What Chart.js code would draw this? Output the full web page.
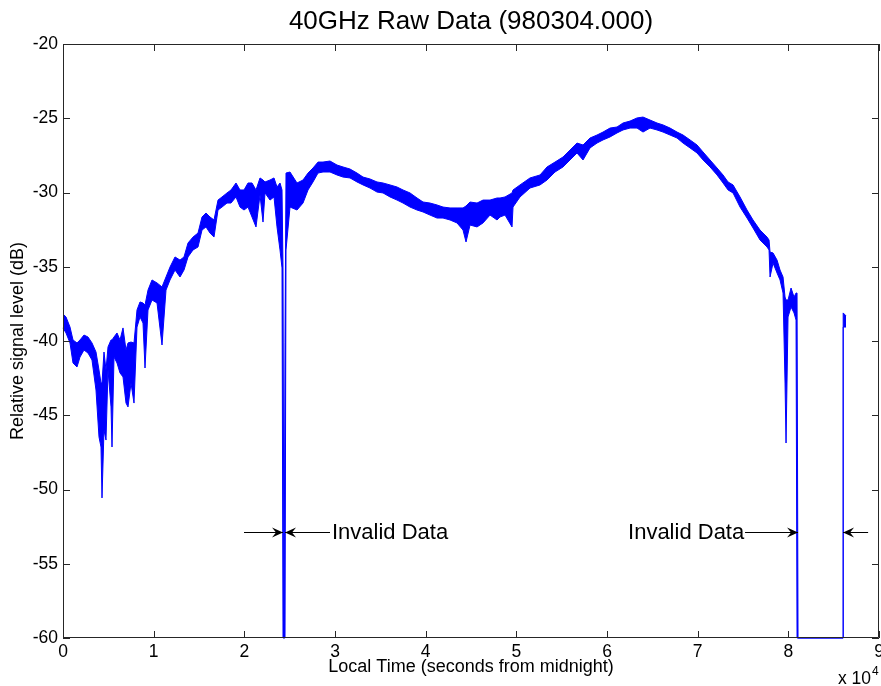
<!DOCTYPE html>
<html>
<head>
<meta charset="utf-8">
<title>40GHz Raw Data</title>
<script src="https://cdn.jsdelivr.net/npm/chart.js@4.4.0/dist/chart.umd.min.js"></script>
<style>
  body { margin: 0; background: #fff; }
  canvas { display: block; }
</style>
</head>
<body>
<canvas id="rawChart" width="881" height="686"></canvas>
<script>
// time of day (seconds from midnight) at each reading
const timeSec = [
  0, 331, 772, 1103, 1544, 1875, 2316, 2757, 3198, 3639, 3970, 4191, 4302, 4522, 4743, 4964,
  5295, 5405, 5625, 5956, 6287, 6618, 6949, 7170, 7500, 7831, 8162, 8493, 8824, 9045, 9376,
  9817, 10368, 10920, 11361, 11802, 12354, 12905, 13346, 13788, 14339, 14890, 15332, 15773,
  16214, 16655, 17097, 17538, 18089, 18530, 19082, 19523, 19964, 20406, 20847, 21288, 21729,
  22060, 22281, 22832, 23273, 23604, 23935, 24156, 24266, 24377, 24487, 24597, 25038, 25810,
  26472, 27024, 27575, 28127, 28678, 29450, 30222, 30884, 31656, 32428, 33090, 33862, 34634,
  35296, 36068, 36840, 37502, 38274, 39046, 39708, 40480, 41252, 41914, 42686, 43458, 44120,
  44451, 44892, 45664, 46326, 47098, 47870, 48201, 48753, 49525, 49635, 50407, 51510, 52613,
  53385, 54268, 55150, 55922, 56694, 57356, 58128, 58900, 59562, 60334, 61106, 61768, 62540,
  63312, 63974, 64746, 65518, 66180, 66952, 67724, 68386, 69158, 69930, 70592, 71364, 72136,
  72798, 73350, 73901, 74673, 75445, 76107, 76879, 77651, 77872, 77982, 78313, 78754, 79085,
  79416, 79637, 79747, 79968, 80298, 80629, 80850, 80960, 81071, 86034, 86050, 86365
];

// upper edge of the noisy signal trace (dB)
const levelHigh = [
  -38.18, -38.38, -39.06, -39.93, -40.13, -39.93, -39.60, -39.73, -40.13, -40.74, -41.95, -42.83, -42.83, -40.74, -41.95, -40.40,
  -39.93, -39.93, -39.73, -39.46, -39.93, -39.12, -40.61, -40.13, -40.07, -40.13, -37.91, -37.37, -37.44, -37.58, -36.57,
  -35.89, -36.09, -36.36, -35.69, -35.02, -34.34, -34.55, -34.34, -33.40, -33.00, -32.73, -31.65, -31.38,
  -31.65, -31.85, -30.51, -30.30, -30.03, -29.83, -29.36, -29.83, -29.83, -29.36, -29.36, -29.83, -29.02,
  -29.16, -29.29, -29.16, -29.02, -29.63, -29.36, -29.83, -35.08, -60.00, -40.13, -28.69, -28.62, -29.36,
  -29.16, -28.69, -28.35, -27.95, -27.95, -27.88, -28.15, -28.28, -28.42, -28.69, -28.96, -29.09, -29.29,
  -29.36, -29.49, -29.63, -29.83, -30.03, -30.37, -30.64, -30.71, -30.84, -30.98, -31.04, -31.04, -31.04,
  -30.91, -30.64, -30.71, -30.51, -30.51, -30.37, -30.37, -30.30, -30.03, -29.83, -29.49, -29.02, -28.82,
  -28.28, -27.95, -27.61, -27.14, -26.67, -26.80, -26.33, -26.13, -25.93, -25.66, -25.59, -25.32, -25.19,
  -24.98, -24.92, -25.12, -25.32, -25.45, -25.66, -25.93, -26.13, -26.46, -26.80, -27.27, -27.81, -28.35,
  -28.82, -29.29, -29.49, -30.30, -31.18, -31.85, -32.53, -33.00, -33.20, -34.01, -34.07, -34.55, -35.22,
  -35.69, -37.04, -37.24, -37.24, -36.43, -37.04, -36.77, -36.77, -60.00, -60.00, -38.11, -38.31
];

// lower edge of the noisy signal trace (dB), including the fades
const levelLow = [
  -39.12, -39.46, -40.13, -41.48, -41.75, -41.08, -40.61, -40.81, -41.28, -43.30, -46.46, -47.14, -50.57, -46.00, -46.67, -41.95,
  -44.44, -47.14, -41.08, -41.48, -42.15, -42.42, -44.18, -44.44, -42.83, -44.18, -39.06, -38.38, -38.79, -41.82, -37.91,
  -37.24, -37.44, -40.27, -36.57, -35.89, -35.22, -35.69, -35.22, -34.34, -33.87, -33.67, -32.53, -32.32,
  -32.73, -33.00, -31.18, -30.98, -30.71, -30.71, -30.30, -30.98, -31.18, -30.98, -31.65, -32.32, -30.17,
  -31.99, -30.03, -30.51, -30.30, -32.32, -33.87, -35.08, -60.00, -60.00, -60.00, -33.87, -30.98, -31.18,
  -30.71, -29.83, -29.29, -28.69, -28.62, -28.62, -28.82, -28.96, -29.02, -29.29, -29.49, -29.70, -29.97,
  -30.03, -30.30, -30.51, -30.71, -30.98, -31.18, -31.31, -31.52, -31.72, -31.72, -31.85, -32.05, -32.53,
  -33.33, -32.19, -32.32, -32.05, -31.52, -31.85, -31.65, -31.52, -32.32, -30.98, -30.30, -29.70, -29.49,
  -29.16, -28.62, -28.28, -27.81, -27.34, -27.81, -27.00, -26.67, -26.46, -26.26, -25.99, -25.79, -25.66,
  -25.66, -25.93, -25.66, -25.79, -25.93, -26.13, -26.33, -26.67, -27.00, -27.34, -27.81, -28.28, -28.82,
  -29.36, -29.83, -30.03, -30.98, -31.72, -32.39, -33.20, -33.67, -33.87, -35.69, -34.75, -35.42, -35.89,
  -36.77, -42.83, -46.87, -38.38, -37.71, -38.11, -38.59, -60.00, -60.00, -60.00, -39.06, -39.06
];

// x axis runs 0..9 (x 10^4 s), y axis -60..-20 dB
const xTicks = [0, 10000, 20000, 30000, 40000, 50000, 60000, 70000, 80000, 90000];
const yTicks = [-60, -55, -50, -45, -40, -35, -30, -25, -20];

// "Invalid Data" markers: arrows at the edges of the gaps
const invalidArrows = [
  { from: 19964, to: 24266 },
  { from: 29450, to: 24487 },
  { from: 75225, to: 81071 },
  { from: 88800, to: 86034 }
];
const invalidLabels = [
  { x: 29670, text: 'Invalid Data' },
  { x: 62320, text: 'Invalid Data' }
];
const arrowLevel = -52.85;

const TITLE = '40GHz Raw Data (980304.000)';
const FONT = "'Liberation Sans', Arial, Helvetica, sans-serif";
const BLUE = '#0000ff';

function toPoints(values) {
  return timeSec.map((t, i) => ({ x: t, y: values[i] }));
}

function drawArrowHead(ctx, x, y, dir) {
  // dir = +1 points right, -1 points left
  ctx.beginPath();
  ctx.moveTo(x, y);
  ctx.lineTo(x - dir * 11, y - 5);
  ctx.lineTo(x - dir * 7, y);
  ctx.lineTo(x - dir * 11, y + 5);
  ctx.closePath();
  ctx.fill();
}

// MATLAB-like frame: box, inward ticks, title, annotations
const matlabFrame = {
  id: 'matlabFrame',
  afterDraw(chart) {
    const ctx = chart.ctx;
    const { left, right, top, bottom } = chart.chartArea;
    const xs = chart.scales.x;
    const ys = chart.scales.y;
    const tick = 7;

    ctx.save();
    ctx.strokeStyle = '#262626';
    ctx.lineWidth = 1;
    ctx.beginPath();
    ctx.rect(left + 0.5, top + 0.5, right - left - 1, bottom - top - 1);
    xTicks.forEach(v => {
      const px = Math.round(xs.getPixelForValue(v)) + 0.5;
      ctx.moveTo(px, bottom); ctx.lineTo(px, bottom - tick);
      ctx.moveTo(px, top); ctx.lineTo(px, top + tick);
    });
    yTicks.forEach(v => {
      const py = Math.round(ys.getPixelForValue(v)) + 0.5;
      ctx.moveTo(left, py); ctx.lineTo(left + tick, py);
      ctx.moveTo(right, py); ctx.lineTo(right - tick, py);
    });
    ctx.stroke();

    // title centred over the axes box
    ctx.fillStyle = '#000';
    ctx.font = '26px ' + FONT;
    ctx.textAlign = 'center';
    ctx.textBaseline = 'middle';
    ctx.fillText(TITLE, (left + right) / 2, 22);

    // arrows
    ctx.strokeStyle = '#000';
    const ay = Math.round(ys.getPixelForValue(arrowLevel)) + 0.5;
    invalidArrows.forEach(a => {
      const x0 = xs.getPixelForValue(a.from);
      const x1 = xs.getPixelForValue(a.to);
      ctx.beginPath();
      ctx.moveTo(x0, ay);
      ctx.lineTo(x1, ay);
      ctx.stroke();
      drawArrowHead(ctx, x1, ay, x1 > x0 ? 1 : -1);
    });

    ctx.font = '22px ' + FONT;
    ctx.textAlign = 'left';
    invalidLabels.forEach(l => {
      ctx.fillText(l.text, xs.getPixelForValue(l.x), ay);
    });

    // exponent label of the x axis
    ctx.font = '17.5px ' + FONT;
    ctx.textBaseline = 'alphabetic';
    ctx.fillText('x 10', 838, 684);
    ctx.font = '12px ' + FONT;
    ctx.fillText('4', 872, 675);
    ctx.restore();
  }
};

const ctx = document.getElementById('rawChart').getContext('2d');

new Chart(ctx, {
  type: 'line',
  data: {
    datasets: [
      {
        label: 'upper',
        data: toPoints(levelHigh),
        borderColor: BLUE,
        borderWidth: 1,
        pointRadius: 0,
        fill: false,
        tension: 0,
        clip: 1
      },
      {
        label: 'lower',
        data: toPoints(levelLow),
        borderColor: BLUE,
        backgroundColor: BLUE,
        borderWidth: 1,
        pointRadius: 0,
        fill: '-1',
        tension: 0,
        clip: 1
      }
    ]
  },
  options: {
    responsive: false,
    animation: false,
    layout: { padding: { left: 0, right: 2, top: 44, bottom: 0 } },
    plugins: {
      legend: { display: false },
      tooltip: { enabled: false },
      title: { display: false }
    },
    scales: {
      x: {
        type: 'linear',
        min: 0,
        max: 90000,
        afterFit(scale) {
          scale.height = 48;
          scale.paddingLeft = 0;
          scale.paddingRight = 0;
        },
        afterBuildTicks(scale) { scale.ticks = xTicks.map(v => ({ value: v })); },
        grid: { display: false, drawTicks: false },
        border: { display: false },
        ticks: {
          color: '#000',
          padding: 4,
          maxRotation: 0,
          font: { family: FONT, size: 17.5 },
          callback: v => v / 10000
        },
        title: {
          display: true,
          text: 'Local Time (seconds from midnight)',
          color: '#000',
          font: { family: FONT, size: 18 },
          padding: { top: 0, bottom: 8 }
        }
      },
      y: {
        min: -60,
        max: -20,
        afterFit(scale) {
          scale.width = 63;
          scale.paddingTop = 0;
          scale.paddingBottom = 0;
        },
        afterBuildTicks(scale) { scale.ticks = yTicks.map(v => ({ value: v })); },
        grid: { display: false, drawTicks: false },
        border: { display: false },
        ticks: {
          color: '#000',
          padding: 5,
          font: { family: FONT, size: 17.5 }
        },
        title: {
          display: true,
          text: 'Relative signal level (dB)',
          color: '#000',
          font: { family: FONT, size: 18 },
          padding: { top: 7, bottom: 0 }
        }
      }
    }
  },
  plugins: [matlabFrame]
});
</script>
</body>
</html>
